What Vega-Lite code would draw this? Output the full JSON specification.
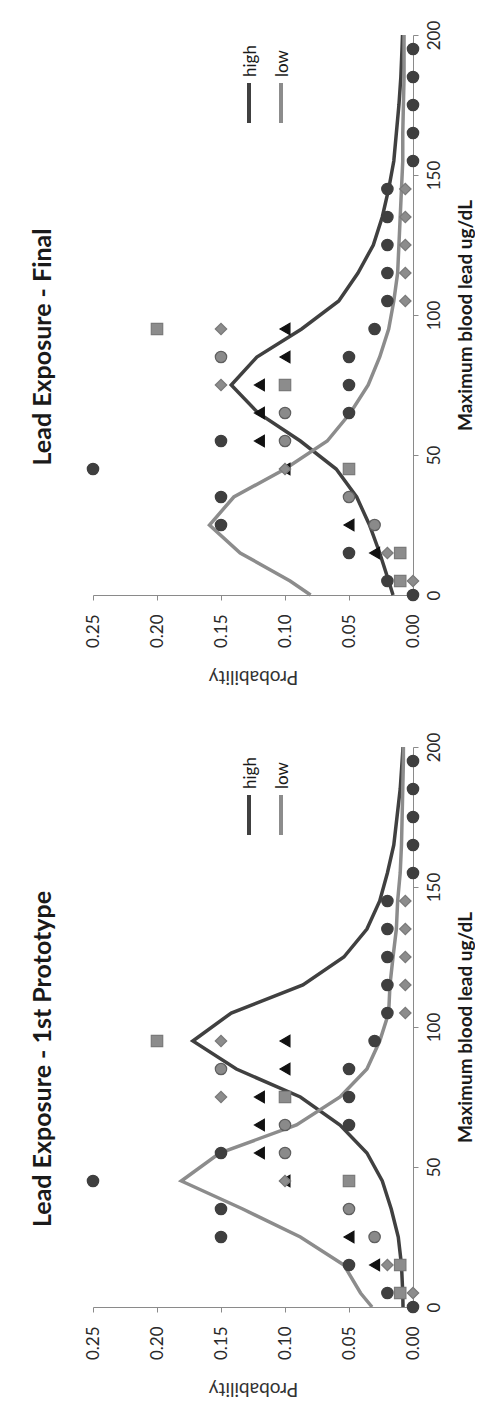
{
  "$schema": "https://vega.github.io/schema/vega-lite/v6.json",
  "padding": {"left": 30, "top": 20, "right": 0, "bottom": 15},
  "background": "white",
  "config": {
    "view": {"stroke": null},
    "font": "Lato",
    "axis": {"grid": false, "domainColor": "#8a8a8a", "tickColor": "#8a8a8a", "tickSize": 5, "labelFont": "Lato", "labelFontSize": 17, "labelColor": "#2a2a2a", "titleFont": "Lato"}
  },
  "datasets": {
    "points": [
      {"lead": 0, "prob": 0, "kind": "dc"},
      {"lead": 5, "prob": 0.02, "kind": "dc"},
      {"lead": 15, "prob": 0.05, "kind": "dc"},
      {"lead": 25, "prob": 0.15, "kind": "dc"},
      {"lead": 35, "prob": 0.15, "kind": "dc"},
      {"lead": 45, "prob": 0.25, "kind": "dc"},
      {"lead": 55, "prob": 0.15, "kind": "dc"},
      {"lead": 65, "prob": 0.05, "kind": "dc"},
      {"lead": 75, "prob": 0.05, "kind": "dc"},
      {"lead": 85, "prob": 0.05, "kind": "dc"},
      {"lead": 95, "prob": 0.03, "kind": "dc"},
      {"lead": 105, "prob": 0.02, "kind": "dc"},
      {"lead": 115, "prob": 0.02, "kind": "dc"},
      {"lead": 125, "prob": 0.02, "kind": "dc"},
      {"lead": 135, "prob": 0.02, "kind": "dc"},
      {"lead": 145, "prob": 0.02, "kind": "dc"},
      {"lead": 155, "prob": 0, "kind": "dc"},
      {"lead": 165, "prob": 0, "kind": "dc"},
      {"lead": 175, "prob": 0, "kind": "dc"},
      {"lead": 185, "prob": 0, "kind": "dc"},
      {"lead": 195, "prob": 0, "kind": "dc"},
      {"lead": 25, "prob": 0.03, "kind": "gc"},
      {"lead": 35, "prob": 0.05, "kind": "gc"},
      {"lead": 55, "prob": 0.10, "kind": "gc"},
      {"lead": 65, "prob": 0.10, "kind": "gc"},
      {"lead": 85, "prob": 0.15, "kind": "gc"},
      {"lead": 15, "prob": 0.03, "kind": "tr"},
      {"lead": 25, "prob": 0.05, "kind": "tr"},
      {"lead": 45, "prob": 0.10, "kind": "tr"},
      {"lead": 55, "prob": 0.12, "kind": "tr"},
      {"lead": 65, "prob": 0.12, "kind": "tr"},
      {"lead": 75, "prob": 0.12, "kind": "tr"},
      {"lead": 85, "prob": 0.10, "kind": "tr"},
      {"lead": 95, "prob": 0.10, "kind": "tr"},
      {"lead": 5, "prob": 0.01, "kind": "sq"},
      {"lead": 15, "prob": 0.01, "kind": "sq"},
      {"lead": 45, "prob": 0.05, "kind": "sq"},
      {"lead": 75, "prob": 0.10, "kind": "sq"},
      {"lead": 95, "prob": 0.20, "kind": "sq"},
      {"lead": 5, "prob": 0, "kind": "di"},
      {"lead": 15, "prob": 0.02, "kind": "di"},
      {"lead": 45, "prob": 0.10, "kind": "di"},
      {"lead": 75, "prob": 0.15, "kind": "di"},
      {"lead": 95, "prob": 0.15, "kind": "di"},
      {"lead": 105, "prob": 0.006, "kind": "di"},
      {"lead": 115, "prob": 0.006, "kind": "di"},
      {"lead": 125, "prob": 0.006, "kind": "di"},
      {"lead": 135, "prob": 0.006, "kind": "di"},
      {"lead": 145, "prob": 0.006, "kind": "di"}
    ],
    "lines": [
      {"panel": "final", "series": "high", "lead": 0, "prob": 0.0156},
      {"panel": "final", "series": "high", "lead": 5, "prob": 0.019},
      {"panel": "final", "series": "high", "lead": 15, "prob": 0.026},
      {"panel": "final", "series": "high", "lead": 25, "prob": 0.034},
      {"panel": "final", "series": "high", "lead": 35, "prob": 0.044},
      {"panel": "final", "series": "high", "lead": 45, "prob": 0.06},
      {"panel": "final", "series": "high", "lead": 55, "prob": 0.088},
      {"panel": "final", "series": "high", "lead": 65, "prob": 0.121},
      {"panel": "final", "series": "high", "lead": 75, "prob": 0.142},
      {"panel": "final", "series": "high", "lead": 85, "prob": 0.122},
      {"panel": "final", "series": "high", "lead": 95, "prob": 0.087},
      {"panel": "final", "series": "high", "lead": 105, "prob": 0.058},
      {"panel": "final", "series": "high", "lead": 115, "prob": 0.043},
      {"panel": "final", "series": "high", "lead": 125, "prob": 0.031},
      {"panel": "final", "series": "high", "lead": 135, "prob": 0.024},
      {"panel": "final", "series": "high", "lead": 145, "prob": 0.019},
      {"panel": "final", "series": "high", "lead": 155, "prob": 0.015},
      {"panel": "final", "series": "high", "lead": 165, "prob": 0.013},
      {"panel": "final", "series": "high", "lead": 175, "prob": 0.011},
      {"panel": "final", "series": "high", "lead": 185, "prob": 0.0095},
      {"panel": "final", "series": "high", "lead": 195, "prob": 0.0086},
      {"panel": "final", "series": "high", "lead": 200, "prob": 0.0082},
      {"panel": "final", "series": "low", "lead": 0, "prob": 0.080},
      {"panel": "final", "series": "low", "lead": 5, "prob": 0.096},
      {"panel": "final", "series": "low", "lead": 15, "prob": 0.135},
      {"panel": "final", "series": "low", "lead": 25, "prob": 0.159},
      {"panel": "final", "series": "low", "lead": 35, "prob": 0.14},
      {"panel": "final", "series": "low", "lead": 45, "prob": 0.10},
      {"panel": "final", "series": "low", "lead": 55, "prob": 0.067},
      {"panel": "final", "series": "low", "lead": 65, "prob": 0.049},
      {"panel": "final", "series": "low", "lead": 75, "prob": 0.035},
      {"panel": "final", "series": "low", "lead": 85, "prob": 0.026},
      {"panel": "final", "series": "low", "lead": 95, "prob": 0.019},
      {"panel": "final", "series": "low", "lead": 105, "prob": 0.015},
      {"panel": "final", "series": "low", "lead": 115, "prob": 0.012},
      {"panel": "final", "series": "low", "lead": 125, "prob": 0.011},
      {"panel": "final", "series": "low", "lead": 135, "prob": 0.010},
      {"panel": "final", "series": "low", "lead": 145, "prob": 0.009},
      {"panel": "final", "series": "low", "lead": 155, "prob": 0.008},
      {"panel": "final", "series": "low", "lead": 165, "prob": 0.008},
      {"panel": "final", "series": "low", "lead": 175, "prob": 0.0075},
      {"panel": "final", "series": "low", "lead": 185, "prob": 0.007},
      {"panel": "final", "series": "low", "lead": 195, "prob": 0.007},
      {"panel": "final", "series": "low", "lead": 200, "prob": 0.007},
      {"panel": "proto", "series": "high", "lead": 0, "prob": 0.0078},
      {"panel": "proto", "series": "high", "lead": 5, "prob": 0.008},
      {"panel": "proto", "series": "high", "lead": 15, "prob": 0.009},
      {"panel": "proto", "series": "high", "lead": 25, "prob": 0.0115},
      {"panel": "proto", "series": "high", "lead": 35, "prob": 0.017},
      {"panel": "proto", "series": "high", "lead": 45, "prob": 0.024},
      {"panel": "proto", "series": "high", "lead": 55, "prob": 0.036},
      {"panel": "proto", "series": "high", "lead": 65, "prob": 0.057},
      {"panel": "proto", "series": "high", "lead": 75, "prob": 0.088},
      {"panel": "proto", "series": "high", "lead": 85, "prob": 0.138},
      {"panel": "proto", "series": "high", "lead": 95, "prob": 0.172},
      {"panel": "proto", "series": "high", "lead": 105, "prob": 0.142},
      {"panel": "proto", "series": "high", "lead": 115, "prob": 0.086},
      {"panel": "proto", "series": "high", "lead": 125, "prob": 0.054},
      {"panel": "proto", "series": "high", "lead": 135, "prob": 0.036},
      {"panel": "proto", "series": "high", "lead": 145, "prob": 0.026},
      {"panel": "proto", "series": "high", "lead": 155, "prob": 0.020},
      {"panel": "proto", "series": "high", "lead": 165, "prob": 0.015},
      {"panel": "proto", "series": "high", "lead": 175, "prob": 0.0125},
      {"panel": "proto", "series": "high", "lead": 185, "prob": 0.010},
      {"panel": "proto", "series": "high", "lead": 195, "prob": 0.0085},
      {"panel": "proto", "series": "high", "lead": 200, "prob": 0.0078},
      {"panel": "proto", "series": "low", "lead": 0, "prob": 0.032},
      {"panel": "proto", "series": "low", "lead": 5, "prob": 0.041},
      {"panel": "proto", "series": "low", "lead": 15, "prob": 0.054},
      {"panel": "proto", "series": "low", "lead": 25, "prob": 0.088},
      {"panel": "proto", "series": "low", "lead": 35, "prob": 0.133},
      {"panel": "proto", "series": "low", "lead": 45, "prob": 0.181},
      {"panel": "proto", "series": "low", "lead": 55, "prob": 0.151},
      {"panel": "proto", "series": "low", "lead": 65, "prob": 0.091},
      {"panel": "proto", "series": "low", "lead": 75, "prob": 0.057},
      {"panel": "proto", "series": "low", "lead": 85, "prob": 0.036},
      {"panel": "proto", "series": "low", "lead": 95, "prob": 0.026},
      {"panel": "proto", "series": "low", "lead": 105, "prob": 0.019},
      {"panel": "proto", "series": "low", "lead": 115, "prob": 0.018},
      {"panel": "proto", "series": "low", "lead": 125, "prob": 0.0156},
      {"panel": "proto", "series": "low", "lead": 135, "prob": 0.013},
      {"panel": "proto", "series": "low", "lead": 145, "prob": 0.012},
      {"panel": "proto", "series": "low", "lead": 155, "prob": 0.010},
      {"panel": "proto", "series": "low", "lead": 165, "prob": 0.009},
      {"panel": "proto", "series": "low", "lead": 175, "prob": 0.0085},
      {"panel": "proto", "series": "low", "lead": 185, "prob": 0.008},
      {"panel": "proto", "series": "low", "lead": 195, "prob": 0.0075},
      {"panel": "proto", "series": "low", "lead": 200, "prob": 0.0075}
    ]
  },
  "spacing": 46,
  "resolve": {"scale": {"color": "independent"}, "legend": {"color": "independent"}},
  "vconcat": [
    {
      "width": 320,
      "height": 560,
      "title": {"text": "Lead Exposure - Final", "orient": "left", "anchor": "middle", "font": "Lato", "fontSize": 25, "fontWeight": "bold", "color": "#1a1a1a", "offset": 28, "dx": -32},
      "encoding": {
        "y": {"field": "lead", "type": "quantitative", "scale": {"domain": [0, 200], "nice": false},
          "axis": {"orient": "right", "values": [0, 50, 100, 150, 200], "labelAngle": -90, "labelAlign": "center", "labelBaseline": "top", "labelPadding": 8, "title": "Maximum blood lead ug/dL", "titleAngle": -90, "titleBaseline": "top", "titleFontSize": 19, "titleFontWeight": "bold", "titleColor": "#1a1a1a", "titlePadding": 14}},
        "x": {"field": "prob", "type": "quantitative", "scale": {"domain": [0, 0.25], "reverse": true, "nice": false},
          "axis": {"orient": "bottom", "values": [0, 0.05, 0.1, 0.15, 0.2, 0.25], "format": ".2f", "labelAngle": -90, "labelPadding": 14, "title": "Probability", "titleAngle": 180, "titleBaseline": "bottom", "titleFontSize": 19, "titleFontWeight": "normal", "titleColor": "#333333", "titlePadding": 19}}
      },
      "layer": [
        {
          "data": {"name": "lines"},
          "transform": [{"filter": "datum.panel === 'final'"}],
          "mark": {"type": "line", "strokeWidth": 3.5},
          "encoding": {
            "color": {"field": "series", "type": "nominal", "scale": {"domain": ["high", "low"], "range": ["#404040", "#8c8c8c"]},
              "legend": {"orient": "none", "legendX": 134, "legendY": 46, "direction": "horizontal", "title": null, "symbolType": "M0,-1L0,1", "symbolSize": 1600, "symbolStrokeWidth": 4, "labelFont": "Lato", "labelFontSize": 17, "labelColor": "#1a1a1a", "labelOffset": -20, "columnPadding": -6,
                "encoding": {"labels": {"angle": {"value": -90}, "align": {"value": "left"}, "dx": {"value": 26}}}}},
            "order": {"field": "lead", "type": "quantitative"}
          }
        },
        {
          "data": {"name": "points"},
          "mark": {"type": "point", "filled": true, "size": 130, "strokeWidth": 1.2, "opacity": 1},
          "encoding": {
            "shape": {"field": "kind", "type": "nominal", "scale": {"domain": ["dc", "gc", "tr", "sq", "di"], "range": ["circle", "circle", "triangle-left", "square", "diamond"]}, "legend": null},
            "fill": {"field": "kind", "type": "nominal", "scale": {"domain": ["dc", "gc", "tr", "sq", "di"], "range": ["#3f3f3f", "#8a8a8a", "#111111", "#8c8c8c", "#8c8c8c"]}, "legend": null},
            "stroke": {"field": "kind", "type": "nominal", "scale": {"domain": ["dc", "gc", "tr", "sq", "di"], "range": ["#3f3f3f", "#5f5f5f", "#111111", "#7a7a7a", "#7a7a7a"]}, "legend": null}
          }
        }
      ]
    },
    {
      "width": 320,
      "height": 560,
      "title": {"text": "Lead Exposure - 1st Prototype", "orient": "left", "anchor": "middle", "font": "Lato", "fontSize": 25, "fontWeight": "bold", "color": "#1a1a1a", "offset": 28, "dx": -32},
      "encoding": {
        "y": {"field": "lead", "type": "quantitative", "scale": {"domain": [0, 200], "nice": false},
          "axis": {"orient": "right", "values": [0, 50, 100, 150, 200], "labelAngle": -90, "labelAlign": "center", "labelBaseline": "top", "labelPadding": 8, "title": "Maximum blood lead ug/dL", "titleAngle": -90, "titleBaseline": "top", "titleFontSize": 19, "titleFontWeight": "bold", "titleColor": "#1a1a1a", "titlePadding": 14}},
        "x": {"field": "prob", "type": "quantitative", "scale": {"domain": [0, 0.25], "reverse": true, "nice": false},
          "axis": {"orient": "bottom", "values": [0, 0.05, 0.1, 0.15, 0.2, 0.25], "format": ".2f", "labelAngle": -90, "labelPadding": 14, "title": "Probability", "titleAngle": 180, "titleBaseline": "bottom", "titleFontSize": 19, "titleFontWeight": "normal", "titleColor": "#333333", "titlePadding": 19}}
      },
      "layer": [
        {
          "data": {"name": "lines"},
          "transform": [{"filter": "datum.panel === 'proto'"}],
          "mark": {"type": "line", "strokeWidth": 3.5},
          "encoding": {
            "color": {"field": "series", "type": "nominal", "scale": {"domain": ["high", "low"], "range": ["#404040", "#8c8c8c"]},
              "legend": {"orient": "none", "legendX": 134, "legendY": 46, "direction": "horizontal", "title": null, "symbolType": "M0,-1L0,1", "symbolSize": 1600, "symbolStrokeWidth": 4, "labelFont": "Lato", "labelFontSize": 17, "labelColor": "#1a1a1a", "labelOffset": -20, "columnPadding": -6,
                "encoding": {"labels": {"angle": {"value": -90}, "align": {"value": "left"}, "dx": {"value": 26}}}}},
            "order": {"field": "lead", "type": "quantitative"}
          }
        },
        {
          "data": {"name": "points"},
          "mark": {"type": "point", "filled": true, "size": 130, "strokeWidth": 1.2, "opacity": 1},
          "encoding": {
            "shape": {"field": "kind", "type": "nominal", "scale": {"domain": ["dc", "gc", "tr", "sq", "di"], "range": ["circle", "circle", "triangle-left", "square", "diamond"]}, "legend": null},
            "fill": {"field": "kind", "type": "nominal", "scale": {"domain": ["dc", "gc", "tr", "sq", "di"], "range": ["#3f3f3f", "#8a8a8a", "#111111", "#8c8c8c", "#8c8c8c"]}, "legend": null},
            "stroke": {"field": "kind", "type": "nominal", "scale": {"domain": ["dc", "gc", "tr", "sq", "di"], "range": ["#3f3f3f", "#5f5f5f", "#111111", "#7a7a7a", "#7a7a7a"]}, "legend": null}
          }
        }
      ]
    }
  ]
}
